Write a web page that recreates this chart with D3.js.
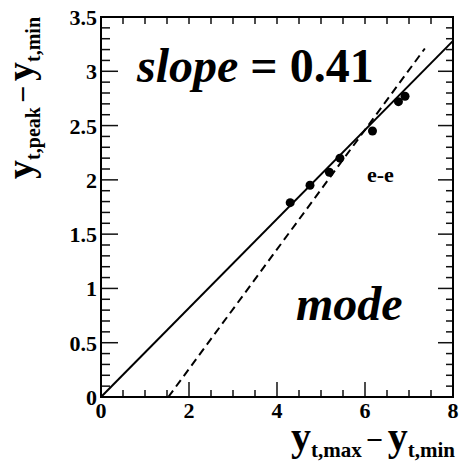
<!DOCTYPE html>
<html>
<head>
<meta charset="utf-8">
<script src="https://cdn.jsdelivr.net/npm/d3@7"></script>
</head>
<body style="margin:0">
<script>
// Measured points: width of the y distribution vs. distance from peak to minimum
const spreadX = [4.30, 4.75, 5.19, 5.43, 6.17, 6.76, 6.91];
const peakY   = [1.79, 1.95, 2.07, 2.20, 2.45, 2.72, 2.77];

// Straight-line fit through the origin, and the dashed reference line
const fitSlope = 0.41;
const dashedLine = [[1.53, 0], [7.36, 3.21]];

const xMajorTicks = [0, 2, 4, 6, 8];
const yMajorTicks = [0, 0.5, 1, 1.5, 2, 2.5, 3, 3.5];
const xTickLabels = ["0", "2", "4", "6", "8"];
const yTickLabels = ["0", "0.5", "1", "1.5", "2", "2.5", "3", "3.5"];

const W = 459, H = 469;
const frame = { left: 101, right: 453, top: 17, bottom: 397 };
const FONT = "Liberation Serif";

const x = d3.scaleLinear().domain([0, 8]).range([frame.left, frame.right]);
const y = d3.scaleLinear().domain([0, 3.5]).range([frame.bottom, frame.top]);

const svg = d3.select("body").append("svg").attr("width", W).attr("height", H);

// every text element carries its own font settings
function styled(sel, size, italic) {
  sel.attr("font-family", FONT).attr("font-weight", "bold").attr("font-size", size);
  if (italic) sel.attr("font-style", "italic");
  return sel;
}

const xMinor = d3.range(0, 8.001, 0.5);
const yMinor = d3.range(0, 3.5001, 0.1).map(v => +v.toFixed(2));
const isMajorY = v => Math.abs(v * 2 - Math.round(v * 2)) < 1e-6;
const isMajorX = v => Math.abs(v / 2 - Math.round(v / 2)) < 1e-6;

const ticks = svg.append("g").attr("stroke", "#111").attr("stroke-width", 1.5);

// bottom axis: long ticks at majors, short at halves
ticks.selectAll(".xb").data(xMinor).join("line")
  .attr("x1", d => x(d)).attr("x2", d => x(d))
  .attr("y1", frame.bottom).attr("y2", d => frame.bottom - (isMajorX(d) ? 15 : 7));
// top axis: uniform short ticks
ticks.selectAll(".xt").data(xMinor).join("line")
  .attr("x1", d => x(d)).attr("x2", d => x(d))
  .attr("y1", frame.top).attr("y2", frame.top + 7);
// left axis
ticks.selectAll(".yl").data(yMinor).join("line")
  .attr("y1", d => y(d)).attr("y2", d => y(d))
  .attr("x1", frame.left).attr("x2", d => frame.left + (isMajorY(d) ? 17 : 9));
// right axis
ticks.selectAll(".yr").data(yMinor).join("line")
  .attr("y1", d => y(d)).attr("y2", d => y(d))
  .attr("x1", frame.right).attr("x2", d => frame.right - (isMajorY(d) ? 15 : 7));

// frame
svg.append("rect")
  .attr("x", frame.left).attr("y", frame.top)
  .attr("width", frame.right - frame.left).attr("height", frame.bottom - frame.top)
  .attr("fill", "none").attr("stroke", "#000").attr("stroke-width", 2);

// tick labels
svg.append("g").selectAll("text").data(xMajorTicks).join("text")
  .attr("x", d => x(d)).attr("y", frame.bottom + 21)
  .attr("text-anchor", "middle")
  .call(styled, 22, false)
  .text((d, i) => xTickLabels[i]);

svg.append("g").selectAll("text").data(yMajorTicks).join("text")
  .attr("x", frame.left - 4).attr("y", d => y(d) + 8)
  .attr("text-anchor", "end")
  .call(styled, 22, false)
  .text((d, i) => yTickLabels[i]);

// both lines end inside the frame
const line = d3.line().x(d => x(d[0])).y(d => y(d[1]));
svg.append("path")
  .datum([[0, 0], [8, 8 * fitSlope]])
  .attr("d", line).attr("fill", "none").attr("stroke", "#000").attr("stroke-width", 2);

svg.append("path")
  .datum(dashedLine)
  .attr("d", line).attr("fill", "none").attr("stroke", "#000")
  .attr("stroke-width", 2).attr("stroke-dasharray", "8,5");

// data points
svg.append("g").selectAll("circle").data(spreadX).join("circle")
  .attr("cx", d => x(d)).attr("cy", (d, i) => y(peakY[i]))
  .attr("r", 4.5).attr("fill", "#000");

// annotations
const slopeText = svg.append("text").attr("x", 137).attr("y", 82).call(styled, 48, false);
slopeText.append("tspan").call(styled, 48, true).text("slope");
slopeText.append("tspan").call(styled, 48, false).text(" = " + fitSlope.toFixed(2));

svg.append("text").attr("x", 296).attr("y", 320).call(styled, 48, true).text("mode");

svg.append("text").attr("x", 367).attr("y", 182).call(styled, 22, false).text("e-e");

// axis titles: "y_a − y_b" with lowered subscripts
function title(sel, main, sub1, sub2) {
  const s = Math.round(main * 0.53);
  sel.call(styled, main, false);
  sel.append("tspan").call(styled, main, false).text("y");
  sel.append("tspan").call(styled, s, false).attr("dy", 7).text(sub1);
  sel.append("tspan").call(styled, 30, false).attr("dy", -7).attr("dx", 4).text("\u2212");
  sel.append("tspan").call(styled, main, false).attr("dx", 5).text("y");
  sel.append("tspan").call(styled, s, false).attr("dy", 7).text(sub2);
}

const xTitle = svg.append("text").attr("x", 455).attr("y", 450).attr("text-anchor", "end");
title(xTitle, 40, "t,max", "t,min");

const yTitle = svg.append("text").attr("text-anchor", "end")
  .attr("transform", "translate(33,17) rotate(-90)");
title(yTitle, 38, "t,peak", "t,min");
</script>
</body>
</html>
